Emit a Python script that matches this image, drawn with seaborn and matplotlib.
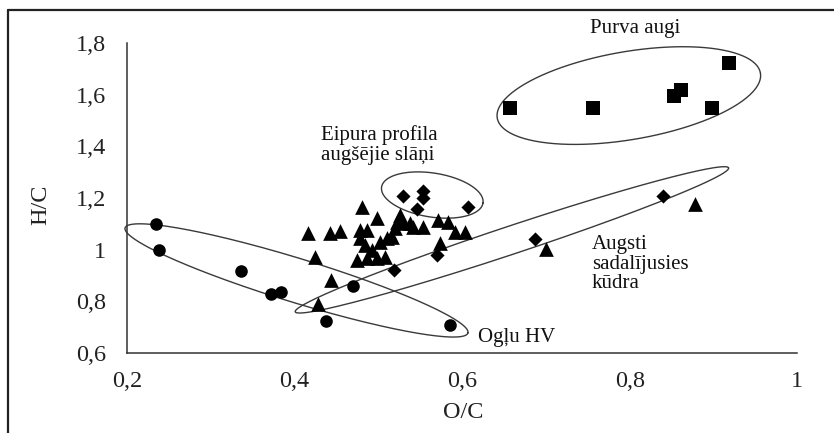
import numpy as np
import pandas as pd
import matplotlib
matplotlib.use("Agg")
import matplotlib.pyplot as plt
from matplotlib.lines import Line2D
import seaborn as sns

# --- data: atomic ratios O/C and H/C for each sample group ---
purva_oc = [0.657, 0.756, 0.853, 0.861, 0.898, 0.918]
purva_hc = [1.548, 1.548, 1.594, 1.617, 1.548, 1.722]

eipura_oc = [0.530, 0.553, 0.553, 0.546, 0.607, 0.570, 0.519, 0.687, 0.840]
eipura_hc = [1.207, 1.227, 1.200, 1.157, 1.165, 0.979, 0.921, 1.041, 1.207]

kudra_oc = [0.416, 0.442, 0.454, 0.424, 0.444, 0.428, 0.481, 0.499, 0.526,
            0.478, 0.487, 0.478, 0.484, 0.493, 0.475, 0.487, 0.499, 0.508,
            0.502, 0.510, 0.516, 0.520, 0.522, 0.530, 0.541, 0.553, 0.571,
            0.583, 0.592, 0.604, 0.574, 0.538, 0.700, 0.878]
kudra_hc = [1.064, 1.064, 1.072, 0.971, 0.882, 0.790, 1.165, 1.122, 1.134,
            1.076, 1.076, 1.045, 1.018, 0.998, 0.960, 0.967, 0.967, 0.971,
            1.029, 1.045, 1.049, 1.084, 1.107, 1.103, 1.087, 1.087, 1.115,
            1.107, 1.068, 1.068, 1.026, 1.103, 1.002, 1.176]

oglu_oc = [0.235, 0.239, 0.336, 0.372, 0.384, 0.470, 0.438, 0.586]
oglu_hc = [1.099, 0.998, 0.917, 0.828, 0.836, 0.859, 0.724, 0.708]

x_ticks = [0.2, 0.4, 0.6, 0.8, 1.0]
x_tick_labels = ["0,2", "0,4", "0,6", "0,8", "1"]
y_ticks = [0.6, 0.8, 1.0, 1.2, 1.4, 1.6, 1.8]
y_tick_labels = ["0,6", "0,8", "1", "1,2", "1,4", "1,6", "1,8"]

df = pd.concat([
    pd.DataFrame({"OC": purva_oc, "HC": purva_hc, "grupa": "purva"}),
    pd.DataFrame({"OC": eipura_oc, "HC": eipura_hc, "grupa": "eipura"}),
    pd.DataFrame({"OC": kudra_oc, "HC": kudra_hc, "grupa": "kudra"}),
    pd.DataFrame({"OC": oglu_oc, "HC": oglu_hc, "grupa": "oglu"}),
], ignore_index=True)

sns.set_theme(style="white")
plt.rcParams["font.family"] = ["Liberation Serif", "DejaVu Serif"]

fig = plt.figure(figsize=(8.34, 4.33), dpi=100)
ax = fig.add_axes([0.152, 0.185, 0.804, 0.716])
ax.set_xlim(0.2, 1.0)
ax.set_ylim(0.6, 1.8)

marker_style = {"purva": ("s", 90), "eipura": ("D", 52), "kudra": ("^", 112), "oglu": ("o", 82)}
for grupa, (mk, size) in marker_style.items():
    sub = df[df["grupa"] == grupa]
    sns.scatterplot(data=sub, x="OC", y="HC", marker=mk, s=size, color="black",
                    edgecolor="black", linewidth=0, ax=ax, legend=False,
                    clip_on=False, zorder=3)

# axes styling
for side in ("top", "right"):
    ax.spines[side].set_visible(False)
for side in ("left", "bottom"):
    ax.spines[side].set_color("#333333")
    ax.spines[side].set_linewidth(1.1)
ax.set_xticks(x_ticks)
ax.set_xticklabels(x_tick_labels)
ax.set_yticks(y_ticks)
ax.set_yticklabels(y_tick_labels)
ax.tick_params(axis="both", direction="in", length=5, width=1.0, color="#333333",
               labelsize=17.5, labelcolor="#222222")
ax.tick_params(axis="y", pad=15)
ax.tick_params(axis="x", pad=13)
ax.grid(False)

ax.set_xlabel("O/C", fontsize=17.5, color="#222222")
ax.set_ylabel("H/C", fontsize=17.5, color="#222222")
ax.xaxis.set_label_coords(0.501, -0.16)
ax.yaxis.set_label_coords(-0.112, 0.477)


def group_ellipse(ax, p1, p2, minor_px, n=300):
    """Outline an ellipse whose major axis runs from p1 to p2 (data units);
    the minor semi-axis is given in display pixels."""
    d1, d2 = ax.transData.transform([p1, p2])
    c = (d1 + d2) / 2
    v = d2 - d1
    a = np.hypot(*v) / 2
    ang = np.arctan2(v[1], v[0])
    t = np.linspace(0, 2 * np.pi, n)
    ex = a * np.cos(t)
    ey = minor_px * np.sin(t)
    pts = np.column_stack([c[0] + ex * np.cos(ang) - ey * np.sin(ang),
                           c[1] + ex * np.sin(ang) + ey * np.cos(ang)])
    data = ax.transData.inverted().transform(pts)
    ax.plot(data[:, 0], data[:, 1], color="#3a3a3a", lw=1.0, clip_on=False, zorder=2)


group_ellipse(ax, (0.642, 1.509), (0.956, 1.683), 44)
group_ellipse(ax, (0.504, 1.242), (0.625, 1.180), 22)
group_ellipse(ax, (0.198, 1.084), (0.607, 0.677), 22)
group_ellipse(ax, (0.401, 0.759), (0.918, 1.316), 14)

txt = dict(fontsize=15, color="#111111", clip_on=False)
ax.text(0.753, 1.857, "Purva augi", ha="left", va="center", **txt)
ax.text(0.432, 1.405, "Eipura profila\naugšējie slāņi", ha="left", va="center",
        linespacing=1.05, **txt)
ax.text(0.755, 0.944, "Augsti\nsadalījusies\nkūdra", ha="left", va="center",
        linespacing=1.05, **txt)
ax.text(0.619, 0.658, "Ogļu HV", ha="left", va="center", **txt)

# outer frame lines along the left and top edges of the image
fig.add_artist(Line2D([8 / 834, 8 / 834], [0, 1 - 10 / 433], transform=fig.transFigure,
                      color="#222222", lw=1.6))
fig.add_artist(Line2D([8 / 834, 1], [1 - 10 / 433, 1 - 10 / 433], transform=fig.transFigure,
                      color="#222222", lw=1.6))

fig.savefig("out.png", dpi=100, facecolor="white")
